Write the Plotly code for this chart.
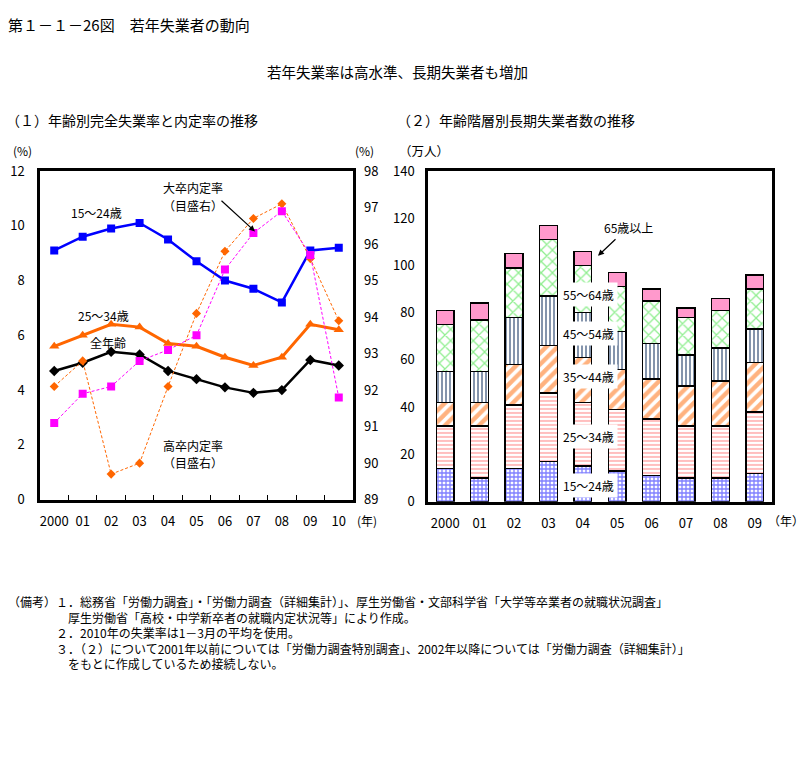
import plotly.graph_objects as go

W, H = 803, 775
FONT = "Noto Sans CJK JP"

# ---------------- data: (1) unemployment rate & job-offer rate ----------------
years_left = ["2000", "01", "02", "03", "04", "05", "06", "07", "08", "09", "10"]
rate_15_24 = [9.1, 9.6, 9.9, 10.1, 9.5, 8.7, 8.0, 7.7, 7.2, 9.1, 9.2]
rate_25_34 = [5.6, 6.0, 6.4, 6.3, 5.7, 5.6, 5.2, 4.9, 5.2, 6.4, 6.2]
rate_all = [4.7, 5.0, 5.4, 5.3, 4.7, 4.4, 4.1, 3.9, 4.0, 5.1, 4.9]
univ_offer = [91.1, 91.9, 92.1, 92.8, 93.1, 93.5, 95.3, 96.3, 96.9, 95.7, 91.8]
hs_offer = [92.1, 92.8, 89.7, 90.0, 92.1, 94.1, 95.8, 96.7, 97.1, 95.6, 93.9]

# ---------------- data: (2) long-term unemployed by age (10k persons) --------
years_right = ["2000", "01", "02", "03", "04", "05", "06", "07", "08", "09"]
lt_15_24 = [14, 10, 14, 17, 15, 13, 11, 10, 10, 12]
lt_25_34 = [18, 22, 27, 29, 27, 26, 24, 22, 22, 26]
lt_35_44 = [10, 10, 17, 20, 19, 17, 17, 17, 19, 21]
lt_45_54 = [13, 13, 20, 21, 19, 16, 15, 13, 14, 14]
lt_55_64 = [20, 22, 21, 24, 20, 19, 18, 16, 16, 17]
lt_65_up = [6, 7, 6, 6, 6, 6, 5, 4, 5, 6]


def px(x):
    return x / W


def py(y):
    return 1 - y / H


fig = go.Figure()

# ---- left chart lines ----
fig.add_trace(go.Scatter(x=years_left, y=hs_offer, mode="lines+markers", yaxis="y2",
                         line=dict(color="#FF6600", width=1, dash="3px,2px"),
                         marker=dict(symbol="diamond", size=7, color="#FF6600"),
                         name="高卒内定率"))
fig.add_trace(go.Scatter(x=years_left, y=univ_offer, mode="lines+markers", yaxis="y2",
                         line=dict(color="#FF00FF", width=1, dash="3px,2px"),
                         marker=dict(symbol="square", size=8, color="#FF00FF"),
                         name="大卒内定率"))
fig.add_trace(go.Scatter(x=years_left, y=rate_all, mode="lines+markers",
                         line=dict(color="black", width=2.5),
                         marker=dict(symbol="diamond", size=8, color="black"),
                         name="全年齢"))
fig.add_trace(go.Scatter(x=years_left, y=rate_25_34, mode="lines+markers",
                         line=dict(color="#FF6600", width=3),
                         marker=dict(symbol="triangle-up", size=9, color="#FF6600"),
                         name="25～34歳"))
fig.add_trace(go.Scatter(x=years_left, y=rate_15_24, mode="lines+markers",
                         line=dict(color="#0000FF", width=2.5),
                         marker=dict(symbol="square", size=8, color="#0000FF"),
                         name="15～24歳"))

# ---- right chart stacked bars ----
bar_specs = [
    ("15～24歳", lt_15_24, dict(shape="+", fgcolor="#0000FF", bgcolor="white", size=4, solidity=0.55)),
    ("25～34歳", lt_25_34, dict(shape="-", fgcolor="#FF7070", bgcolor="white", size=4, solidity=0.45)),
    ("35～44歳", lt_35_44, dict(shape="/", fgcolor="#FF6600", bgcolor="white", size=8, solidity=0.55)),
    ("45～54歳", lt_45_54, dict(shape="|", fgcolor="#0A2A5A", bgcolor="white", size=4, solidity=0.5)),
    ("55～64歳", lt_55_64, dict(shape="x", fgcolor="#22DD22", bgcolor="white", size=8, solidity=0.3)),
]
for name, vals, pat in bar_specs:
    fig.add_trace(go.Bar(x=years_right, y=vals, xaxis="x2", yaxis="y3", name=name,
                         marker=dict(color="white", pattern=pat,
                                     line=dict(color="black", width=1.5))))
fig.add_trace(go.Bar(x=years_right, y=lt_65_up, xaxis="x2", yaxis="y3", name="65歳以上",
                     marker=dict(color="#FF99CC", line=dict(color="black", width=1.5))))

tickfont = dict(family=FONT, size=13, color="black")

fig.update_layout(
    width=W, height=H,
    margin=dict(l=0, r=0, t=0, b=0),
    paper_bgcolor="white", plot_bgcolor="white",
    showlegend=False,
    barmode="stack", bargap=0.48,
    font=dict(family=FONT, size=12, color="black"),
    xaxis=dict(domain=[px(40), px(353)], anchor="y", type="category",
               range=[-0.5, 10.5], ticks="inside", tickson="boundaries", ticklen=5,
               tickcolor="black", showline=True, mirror=True, linewidth=2.5,
               linecolor="black", showgrid=False, tickfont=tickfont, tickangle=0,
               ticklabelstandoff=8),
    yaxis=dict(domain=[py(502), py(165)], range=[0, 12], dtick=2, showgrid=False,
               showline=True, linewidth=2.5, linecolor="black", mirror=True,
               ticks="", zeroline=False, tickfont=tickfont, ticklabelstandoff=10),
    yaxis2=dict(overlaying="y", side="right", anchor="x", range=[89, 98], dtick=1,
                showgrid=False, showline=False, zeroline=False, ticks="",
                tickfont=tickfont, ticklabelstandoff=10),
    xaxis2=dict(domain=[px(428), px(772)], anchor="y3", type="category",
                range=[-0.5, 9.5], ticks="", showline=True, mirror=True,
                linewidth=2.5, linecolor="black", showgrid=False, tickfont=tickfont,
                tickangle=0, ticklabelstandoff=8),
    yaxis3=dict(domain=[py(504), py(165)], anchor="x2", range=[0, 140], dtick=20,
                showgrid=False, showline=True, mirror=True, linewidth=2.5,
                linecolor="black", ticks="", zeroline=False, tickfont=tickfont,
                ticklabelstandoff=8),
)


def label(text, x, y, size=12, xanchor="center", yanchor="middle", align="center", **kw):
    fig.add_annotation(text=text, x=px(x), y=py(y), xref="paper", yref="paper",
                       showarrow=False, xanchor=xanchor, yanchor=yanchor, align=align,
                       font=dict(family=FONT, size=size, color="black"), **kw)


# titles
label("第１－１－26図　若年失業者の動向", 6, 15, size=15, xanchor="left")
label("若年失業率は高水準、長期失業者も増加", 397, 63, size=14.5)
label("（１）年齢別完全失業率と内定率の推移", 4, 113, size=14, xanchor="left")
label("（２）年齢階層別長期失業者数の推移", 395, 113, size=14, xanchor="left")

# axis units
label("(%)", 22, 144, size=12)
label("(%)", 364, 144, size=12)
label("(年)", 367, 523, size=12)
label("（万人）", 424, 144, size=12.5)
label("（年）", 786, 523, size=12)

# left chart labels
label("15～24歳", 96, 208)
label("25～34歳", 104, 313)
label("全年齢", 108, 341)
label("大卒内定率", 193, 182, size=12)
label("（目盛右）", 193, 200, size=12)
label("高卒内定率", 193, 446, size=12)
label("（目盛右）", 193, 464, size=12)
fig.add_annotation(text="", x=px(255), y=py(227), xref="paper", yref="paper",
                   ax=-35, ay=-32, showarrow=True, arrowhead=2, arrowsize=1,
                   arrowwidth=1.2, arrowcolor="black")

# right chart labels
label("65歳以上", 628, 223, size=12)
fig.add_annotation(text="", x=px(598), y=py(252), xref="paper", yref="paper",
                   ax=19, ay=-18, showarrow=True, arrowhead=2, arrowsize=1,
                   arrowwidth=1.2, arrowcolor="black")
for txt, yy in [("55～64歳", 292), ("45～54歳", 332), ("35～44歳", 376),
                ("25～34歳", 437), ("15～24歳", 487)]:
    label(txt, 588, yy, size=12, bgcolor="white", borderpad=3)

# footnotes (one block; ideographic spaces give the indents)
notes = [
    "（備考）１．総務省「労働力調査」・「労働力調査（詳細集計）」、厚生労働省・文部科学省「大学等卒業者の就職状況調査」",
    "\u3000\u3000\u3000\u3000\u3000厚生労働省「高校・中学新卒者の就職内定状況等」により作成。",
    "\u3000\u3000\u3000\u3000２．2010年の失業率は1－3月の平均を使用。",
    "\u3000\u3000\u3000\u3000３．（２）について2001年以前については「労働力調査特別調査」、2002年以降については「労働力調査（詳細集計）」",
    "\u3000\u3000\u3000\u3000\u3000をもとに作成しているため接続しない。",
]
label("<br>".join(notes), 6, 596, size=12, xanchor="left", yanchor="top", align="left")

fig.write_html("out.html")
